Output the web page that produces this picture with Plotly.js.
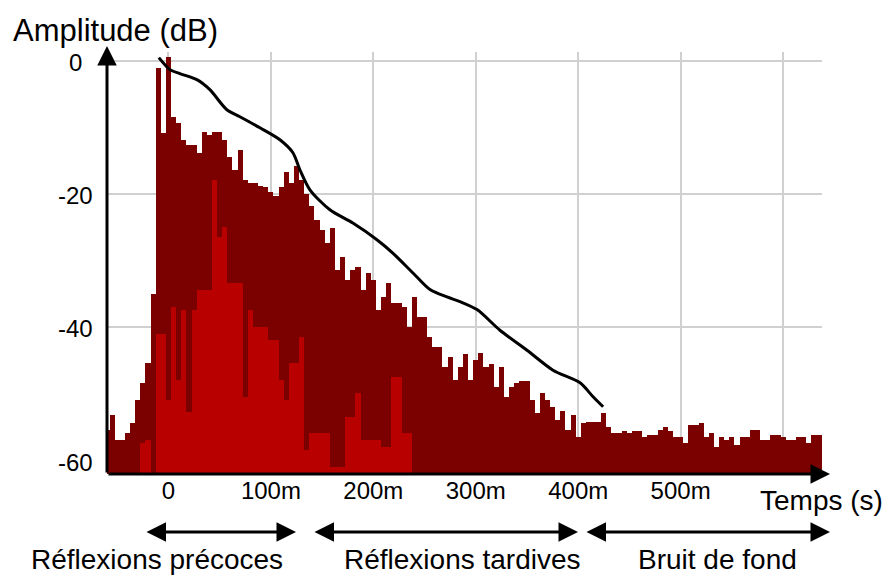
<!DOCTYPE html>
<html>
<head>
<meta charset="utf-8">
<script src="https://cdn.plot.ly/plotly-3.0.1.min.js"></script>
<style>html,body{margin:0;padding:0;background:#fff;}#chart{width:896px;height:578px;}</style>
</head>
<body>
<div id="chart"></div>
<script>
// Time axis (ms), 5 ms steps
const timesMs = [];
for (let t = -60; t <= 640; t += 5) timesMs.push(t);

// Echogram envelope (dB), dark red layer, one value per time step
const echoDb = [
 -55.5,-53.2,-57,-57,-56,-54.5,-51,-48.4,-45.4,-35,
 -1.1,-10.8,0.6,-8.4,-9.3,-11.9,-12.6,-12.6,-13.8,-10.7,
 -11.2,-10.7,-10.7,-11.9,-14.4,-16.4,-13.4,-17.9,-18.4,-18.4,
 -18.9,-19,-19.8,-20.4,-19,-16.8,-18.4,-15.9,-17.9,-20,
 -21.9,-24,-25.4,-27.4,-25.1,-31.4,-29.5,-32.9,-31.4,-31,
 -34.4,-31.9,-33,-37.4,-35.5,-33.4,-36.4,-36.4,-37,-40,
 -35.5,-38.5,-38.5,-41.5,-43,-43,-46,-44.5,-48,-46,
 -44,-48,-45,-43.9,-46,-45.5,-49,-46,-50.5,-49,
 -48.4,-48.2,-48.2,-51,-53,-50,-51,-52,-54,-52.6,
 -55.5,-53.2,-56.5,-54.4,-54.3,-54.3,-54.3,-53,-55,-56,
 -56,-55.7,-56,-55.7,-55.7,-56.5,-56.2,-56.2,-55.5,-55,
 -55.7,-56.5,-56.5,-57.4,-54.7,-54.7,-54.5,-56.5,-56,-58,
 -56.6,-57,-56.5,-57.7,-56.5,-56.5,-55.5,-55.5,-57,-57,
 -56.2,-56.2,-56.5,-57,-57,-56.6,-56.5,-57.4,-56.2,-56.2,
 -56.2
];

// Early/direct component (dB), bright red layer
const earlyTimesMs = [];
for (let t = -30; t <= 240; t += 5) earlyTimesMs.push(t);
const earlyDb = [
 -70,-57.5,-57,-70,-41,-41,-51,-37,-48,-37.5,
 -52.8,-37.4,-34.4,-34.4,-34.4,-18,-26.5,-25,-33.4,-33.4,
 -33.4,-50.5,-37.4,-40,-40,-40,-42,-42,-48,-51,
 -45.4,-45.4,-41.5,-58.5,-56,-56,-56,-56,-61,-61,
 -61,-53.5,-53.5,-50,-57,-57,-57,-57,-58,-58,
 -47.5,-47.5,-56,-56,-70
];

// Schroeder decay curve
const decayTimesMs = [-9.4,1.4,11.1,27.7,40.4,57,69.7,89.3,108.8,121.5,128.3,138.1,157.6,180,203.5,219,238.7,255.3,271.9,284.6,301.2,323.6,350,375.4,401.8,414.5,424.3];
const decayDb = [0.45,-1.35,-1.95,-2.86,-4.36,-7.37,-8.42,-10.08,-11.88,-13.83,-16.39,-19.4,-22.4,-24.4,-26.9,-28.9,-31.9,-34.4,-35.5,-36.2,-37.4,-40.5,-43.5,-46.5,-48.4,-50.5,-52];

// Ticks and labels
const xTickVals = [0,100,200,300,400,500,600];
const xTickText = ['0','100m','200m','300m','400m','500m',''];
const yTickVals = [0,-20,-40,-60];
const yTickText = ['0','-20','-40','-60'];
const yTitle = 'Amplitude (dB)';
const xTitle = 'Temps (s)';
const zoneLabels = ['Réflexions précoces','Réflexions tardives','Bruit de fond'];

const FLOOR = -70;
const FONT = 'Liberation Sans, Arial, Helvetica, sans-serif';

const traces = [
  {type:'bar', x: timesMs, y: echoDb.map(v => v - FLOOR), base: FLOOR, width: 5,
   marker:{color:'#7b0000', line:{width:0}}, hoverinfo:'skip'},
  {type:'bar', x: earlyTimesMs, y: earlyDb.map(v => v - FLOOR), base: FLOOR, width: 5,
   marker:{color:'#b80000', line:{width:0}}, hoverinfo:'skip'},
  {type:'scatter', mode:'lines', x: decayTimesMs, y: decayDb,
   line:{color:'#000', width:3, shape:'spline', smoothing:0.8}, hoverinfo:'skip'}
];

// plot area geometry in px (for annotation placement)
const L = 107, R = 822, T = 52, B = 474;
const px2paperX = px => (px - L) / (R - L);
const py2paperY = py => (B - py) / (B - T);

const ann = [];
ann.push({xref:'paper', yref:'paper', x:px2paperX(11), y:py2paperY(30), xanchor:'left', yanchor:'middle',
  text:yTitle, showarrow:false, font:{family:FONT, size:31, color:'#000'}});
yTickVals.forEach((v,i) => ann.push({xref:'paper', yref:'y', x:px2paperX(75), y:v, xanchor:'center', yanchor:'middle',
  text:yTickText[i], showarrow:false, yshift:-2, font:{family:FONT, size:24, color:'#000'}}));
ann.push({xref:'paper', yref:'paper', x:px2paperX(821), y:py2paperY(500), xanchor:'center', yanchor:'middle',
  text:xTitle, showarrow:false, font:{family:FONT, size:28, color:'#000'}});
// axis arrows
ann.push({xref:'paper', yref:'paper', x:0, y:py2paperY(46), ax:0, ay:B-46, axref:'pixel', ayref:'pixel', text:'',
  showarrow:true, arrowhead:2, arrowsize:1.3, arrowwidth:3, arrowcolor:'#000', standoff:0});
ann.push({xref:'paper', yref:'paper', x:px2paperX(830), y:0, ax:-(830-L), ay:0, text:'',
  showarrow:true, arrowhead:2, arrowsize:1.3, arrowwidth:3, arrowcolor:'#000', standoff:0});
// zone arrows
const zoneArrowPx = [[145,296],[313,578],[585,830]];
const zoneLabelPx = [157,462,717];
zoneArrowPx.forEach((p,i) => {
  ann.push({xref:'paper', yref:'paper', x:px2paperX(p[1]), y:py2paperY(532), ax:-(p[1]-p[0]), ay:0, text:'',
    showarrow:true, arrowhead:2, startarrowhead:2, arrowside:'end+start', arrowsize:1.3, startarrowsize:1.3,
    arrowwidth:3, arrowcolor:'#000', standoff:0, startstandoff:0});
  ann.push({xref:'paper', yref:'paper', x:px2paperX(zoneLabelPx[i]), y:py2paperY(559), xanchor:'center', yanchor:'middle',
    text:zoneLabels[i], showarrow:false, font:{family:FONT, size:28, color:'#000'}});
});

const layout = {
  width:896, height:578,
  margin:{l:L, r:896-R, t:T, b:578-B, pad:0},
  paper_bgcolor:'#fff', plot_bgcolor:'#fff',
  showlegend:false, barmode:'overlay', bargap:0,
  font:{family:FONT, color:'#000'},
  xaxis:{range:[-60,638], tickvals:xTickVals, ticktext:xTickText, showgrid:true, gridcolor:'#d0d0d0', gridwidth:2,
    zeroline:false, showline:false, ticks:'', tickfont:{family:FONT, size:24, color:'#000'}, fixedrange:true},
  yaxis:{range:[-62.1,1.3], tickvals:yTickVals, showticklabels:false, showgrid:true, gridcolor:'#d0d0d0', gridwidth:2,
    zeroline:false, showline:false, ticks:'', fixedrange:true},
  annotations: ann
};

Plotly.newPlot('chart', traces, layout, {staticPlot:true, displayModeBar:false});
</script>
</body>
</html>
